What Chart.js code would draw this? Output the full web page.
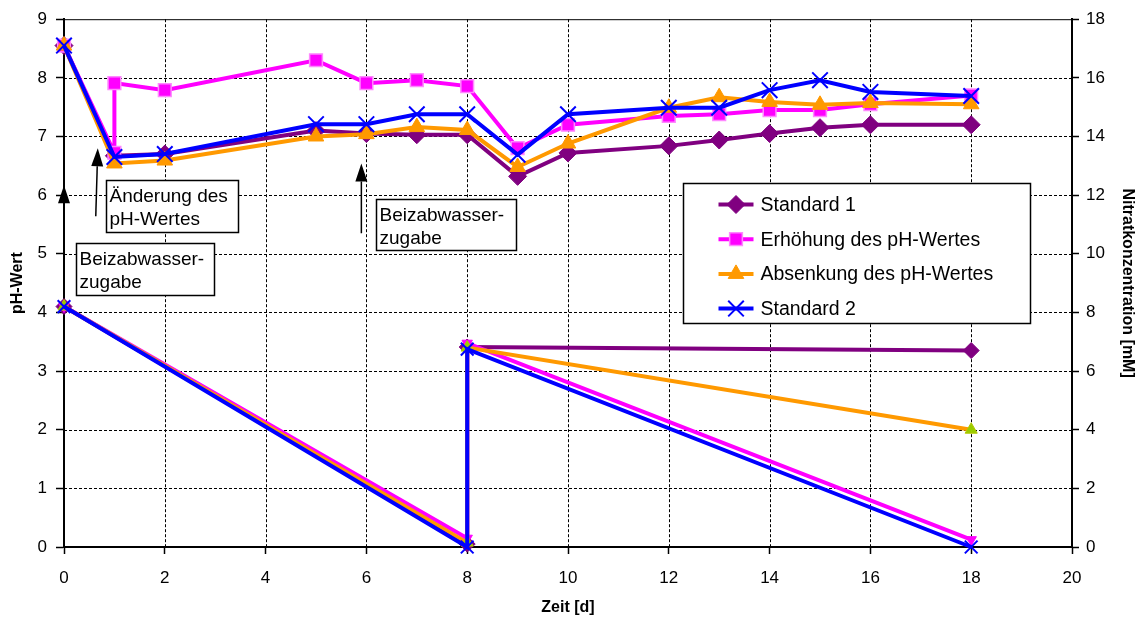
<!DOCTYPE html>
<html>
<head>
<meta charset="utf-8">
<script src="https://cdn.jsdelivr.net/npm/chart.js@4.4.1/dist/chart.umd.min.js"></script>
<style>
  html, body { margin: 0; padding: 0; background: #fff; }
  canvas { display: block; }
</style>
</head>
<body>
<canvas id="chart" width="1142" height="626"></canvas>
<script>
// Achsen
const zeitTicks = [0, 2, 4, 6, 8, 10, 12, 14, 16, 18, 20];
const phTicks = [0, 1, 2, 3, 4, 5, 6, 7, 8, 9];
const nitratTicks = [0, 2, 4, 6, 8, 10, 12, 14, 16, 18];

const serien = ['Standard 1', 'Erhöhung des pH-Wertes', 'Absenkung des pH-Wertes', 'Standard 2'];

// pH-Werte
const phZeit = [0, 1, 2, 5, 6, 7, 8, 9, 10, 12, 13, 14, 15, 16, 18];
const phStandard1 = [8.55, 6.67, 6.7, 7.1, 7.05, 7.03, 7.03, 6.32, 6.72, 6.84, 6.94, 7.05, 7.15, 7.2, 7.2];
const phAbsenkung = [8.55, 6.54, 6.59, 7.0, 7.04, 7.16, 7.11, 6.48, 6.88, 7.49, 7.67, 7.59, 7.54, 7.57, 7.55];
const phStandard2 = [8.55, 6.65, 6.7, 7.21, 7.21, 7.38, 7.38, 6.69, 7.38, 7.49, 7.49, 7.79, 7.96, 7.76, 7.69];
const phZeitErhoehung = [0, 1, 1, 2, 5, 6, 7, 8, 9, 10, 12, 13, 14, 15, 16, 18];
const phErhoehung = [8.55, 6.72, 7.91, 7.79, 8.3, 7.91, 7.96, 7.86, 6.8, 7.2, 7.35, 7.38, 7.45, 7.45, 7.55, 7.7];

// Nitratkonzentration [mM]
const nitratZeit = [0, 8, 8, 18];
const nitratStandard1 = [8.2, 0.1, 6.82, 6.7];
const nitratErhoehung = [8.2, 0.3, 6.95, 0.25];
const nitratAbsenkung = [8.2, 0.15, 6.8, 4.0];
const nitratStandard2 = [8.2, 0, 6.75, 0];

const schrift = "'Liberation Sans', Arial, sans-serif";
Chart.defaults.font.family = schrift;
Chart.defaults.color = '#000';

const farben = ['#800080', '#ff00ff', '#ff9900', '#0000ff'];
const markerPh = [
  { form: 'rectRot', r: 9, bg: '#800080', border: '#800080', bw: 1 },
  { form: 'rect', r: 9, bg: '#ff00ff', border: '#ff88ff', bw: 1.5 },
  { form: 'triangle', r: 9, bg: '#ff9900', border: '#ff9900', bw: 1 },
  { form: 'crossRot', r: 11, bg: '#0000ff', border: '#0000ff', bw: 2 }
];
const markerNitrat = [
  { form: 'rectRot', r: 8, bg: '#800080', border: '#800080', bw: 1 },
  { form: 'triangle', r: 6, bg: '#ff00ff', border: '#ff00ff', bw: 1, rot: 180 },
  { form: 'triangle', r: 7, bg: '#99cc00', border: '#b4c800', bw: 1 },
  { form: 'crossRot', r: 9, bg: '#0000ff', border: '#0000ff', bw: 2 }
];

function punkte(xs, ys) {
  return xs.map((x, i) => ({ x: x, y: ys[i] }));
}

function serie(label, daten, i, marker, achse, order) {
  return {
    label: label,
    data: daten,
    yAxisID: achse,
    borderColor: farben[i],
    borderWidth: 4,
    pointStyle: marker.form,
    pointRadius: marker.r,
    pointRotation: marker.rot || 0,
    pointBackgroundColor: marker.bg,
    pointBorderColor: marker.border,
    pointBorderWidth: marker.bw,
    tension: 0,
    fill: false,
    clip: false,
    order: order
  };
}

const phDaten = [
  punkte(phZeit, phStandard1),
  punkte(phZeitErhoehung, phErhoehung),
  punkte(phZeit, phAbsenkung),
  punkte(phZeit, phStandard2)
];
const nitratDaten = [
  punkte(nitratZeit, nitratStandard1),
  punkte(nitratZeit, nitratErhoehung),
  punkte(nitratZeit, nitratAbsenkung),
  punkte(nitratZeit, nitratStandard2)
];
const reihenfolge = [3, 2, 1, 0];

const datasets = [];
serien.forEach((s, i) => datasets.push(serie(s, phDaten[i], i, markerPh[i], 'y', reihenfolge[i])));
serien.forEach((s, i) => datasets.push(serie(s + ' Nitrat', nitratDaten[i], i, markerNitrat[i], 'y2', reihenfolge[i] + 4)));

// Beschriftungen im Diagramm
const textKaesten = [
  { x: 0.83, y: 6.265, w: 132, h: 52, zeilen: ['Änderung des', 'pH-Wertes'] },
  { x: 0.24, y: 5.18, w: 138, h: 52, zeilen: ['Beizabwasser-', 'zugabe'] },
  { x: 6.19, y: 5.94, w: 140, h: 51, zeilen: ['Beizabwasser-', 'zugabe'] }
];
const pfeile = [
  { x1: 0, y1: 5.7, x2: 0, y2: 6.17 },
  { x1: 0.63, y1: 5.64, x2: 0.67, y2: 6.8 },
  { x1: 5.9, y1: 5.35, x2: 5.9, y2: 6.54 }
];
const legendePos = { x: 12.28, y: 6.21, w: 347, h: 140 };

function zeichnePunkt(ctx, m, x, y) {
  ctx.save();
  ctx.fillStyle = m.bg;
  ctx.strokeStyle = m.border;
  ctx.lineWidth = m.bw;
  Chart.helpers.drawPoint(ctx, { pointStyle: m.form, radius: m.r, rotation: m.rot || 0, borderWidth: m.bw }, x, y);
  ctx.restore();
}

const gitterPlugin = {
  id: 'gitter',
  beforeDatasetsDraw(chart) {
    const { ctx, chartArea: a, scales: { x, y } } = chart;
    ctx.save();
    ctx.strokeStyle = '#000';
    ctx.lineWidth = 1;
    ctx.setLineDash([3, 2]);
    ctx.beginPath();
    zeitTicks.forEach(v => {
      if (v > x.min && v < x.max) {
        const px = Math.round(x.getPixelForValue(v)) + 0.5;
        ctx.moveTo(px, a.top);
        ctx.lineTo(px, a.bottom);
      }
    });
    phTicks.forEach(v => {
      if (v > y.min && v < y.max) {
        const py = Math.round(y.getPixelForValue(v)) + 0.5;
        ctx.moveTo(a.left, py);
        ctx.lineTo(a.right, py);
      }
    });
    ctx.stroke();
    ctx.setLineDash([]);
    ctx.beginPath();
    ctx.moveTo(a.left, a.top + 0.5);
    ctx.lineTo(a.right, a.top + 0.5);
    ctx.stroke();
    ctx.restore();
  }
};

const beschriftungPlugin = {
  id: 'beschriftung',
  afterDatasetsDraw(chart) {
    const { ctx, scales: { x, y } } = chart;
    ctx.save();

    // Pfeile
    pfeile.forEach(p => {
      const x1 = x.getPixelForValue(p.x1), y1 = y.getPixelForValue(p.y1);
      const x2 = x.getPixelForValue(p.x2), y2 = y.getPixelForValue(p.y2);
      const ang = Math.atan2(y2 - y1, x2 - x1);
      const len = 18, br = 6;
      const bx = x2 - len * Math.cos(ang), by = y2 - len * Math.sin(ang);
      ctx.strokeStyle = '#000';
      ctx.fillStyle = '#000';
      ctx.lineWidth = 1.5;
      ctx.beginPath();
      ctx.moveTo(x1, y1);
      ctx.lineTo(bx, by);
      ctx.stroke();
      ctx.beginPath();
      ctx.moveTo(x2, y2);
      ctx.lineTo(bx + br * Math.sin(ang), by - br * Math.cos(ang));
      ctx.lineTo(bx - br * Math.sin(ang), by + br * Math.cos(ang));
      ctx.closePath();
      ctx.fill();
    });

    // Textkästen
    ctx.font = '19px ' + schrift;
    ctx.textBaseline = 'alphabetic';
    ctx.textAlign = 'left';
    textKaesten.forEach(k => {
      const l = Math.round(x.getPixelForValue(k.x)) + 0.5;
      const t = Math.round(y.getPixelForValue(k.y)) + 0.5;
      ctx.fillStyle = '#fff';
      ctx.fillRect(l, t, k.w, k.h);
      ctx.strokeStyle = '#000';
      ctx.lineWidth = 1.5;
      ctx.strokeRect(l, t, k.w, k.h);
      ctx.fillStyle = '#000';
      k.zeilen.forEach((z, i) => ctx.fillText(z, l + 3, t + 21 + i * 23));
    });

    // Legende
    const ll = Math.round(x.getPixelForValue(legendePos.x)) + 0.5;
    const lt = Math.round(y.getPixelForValue(legendePos.y)) + 0.5;
    ctx.fillStyle = '#fff';
    ctx.fillRect(ll, lt, legendePos.w, legendePos.h);
    ctx.strokeStyle = '#000';
    ctx.lineWidth = 1.5;
    ctx.strokeRect(ll, lt, legendePos.w, legendePos.h);
    ctx.font = '19.5px ' + schrift;
    ctx.textBaseline = 'middle';
    serien.forEach((s, i) => {
      const yy = lt + 21 + i * 34.7;
      ctx.strokeStyle = farben[i];
      ctx.lineWidth = 4;
      ctx.beginPath();
      ctx.moveTo(ll + 35, yy);
      ctx.lineTo(ll + 70, yy);
      ctx.stroke();
      zeichnePunkt(ctx, markerPh[i], ll + 52.5, yy);
      ctx.fillStyle = '#000';
      ctx.fillText(s, ll + 77, yy + 1);
    });
    ctx.restore();
  }
};

function achsenTicks(werte) {
  return function (scale) {
    scale.ticks = werte.map(v => ({ value: v }));
  };
}

new Chart(document.getElementById('chart'), {
  type: 'line',
  data: { datasets: datasets },
  options: {
    responsive: false,
    animation: false,
    layout: { padding: { left: 0, right: 0, top: 17, bottom: 0 } },
    plugins: {
      legend: { display: false },
      tooltip: { enabled: false }
    },
    scales: {
      x: {
        type: 'linear',
        min: 0,
        max: 20,
        afterBuildTicks: achsenTicks(zeitTicks),
        afterFit(scale) { scale.height = 79; },
        grid: { drawOnChartArea: false, drawTicks: true, tickLength: 7, tickColor: '#000', tickWidth: 1.5 },
        border: { display: true, color: '#000', width: 2 },
        ticks: { color: '#000', font: { size: 17 }, padding: 14, maxRotation: 0, autoSkip: false },
        title: { display: true, text: 'Zeit [d]', color: '#000', font: { size: 16, weight: 'bold' }, padding: { top: 0, bottom: 9 } }
      },
      y: {
        type: 'linear',
        position: 'left',
        min: 0,
        max: 9,
        afterBuildTicks: achsenTicks(phTicks),
        afterFit(scale) { scale.width = 64; },
        grid: { drawOnChartArea: false, drawTicks: true, tickLength: 8, tickColor: '#000', tickWidth: 1.5 },
        border: { display: true, color: '#000', width: 2 },
        ticks: { color: '#000', font: { size: 17 }, padding: 9 },
        title: { display: true, text: 'pH-Wert', color: '#000', font: { size: 16, weight: 'bold' }, padding: { top: 8, bottom: 0 } }
      },
      y2: {
        type: 'linear',
        position: 'right',
        min: 0,
        max: 18,
        afterBuildTicks: achsenTicks(nitratTicks),
        afterFit(scale) { scale.width = 70; },
        grid: { drawOnChartArea: false, drawTicks: true, tickLength: 7, tickColor: '#000', tickWidth: 1.5 },
        border: { display: true, color: '#000', width: 2 },
        ticks: { color: '#000', font: { size: 17 }, padding: 7 },
        title: { display: true, text: 'Nitratkonzentration [mM]', color: '#000', font: { size: 16, weight: 'bold' }, padding: { top: 5, bottom: 0 } }
      }
    }
  },
  plugins: [gitterPlugin, beschriftungPlugin]
});
</script>
</body>
</html>
